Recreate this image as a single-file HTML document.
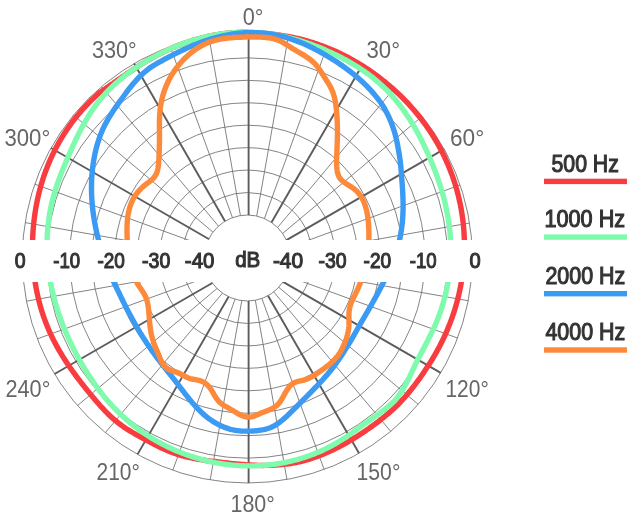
<!DOCTYPE html>
<html><head><meta charset="utf-8"><style>
html,body{margin:0;padding:0;background:#fff;width:627px;height:520px;overflow:hidden}
svg{display:block;will-change:transform}
text{font-family:"Liberation Sans",sans-serif}
</style></head><body>
<svg width="627" height="520" viewBox="0 0 627 520">
<rect width="627" height="520" fill="#fff"/>
<g><circle cx="247.3" cy="258.0" r="43.00" fill="none" stroke="#6e6e6e" stroke-width="0.85"/>
<circle cx="247.3" cy="258.0" r="65.45" fill="none" stroke="#6e6e6e" stroke-width="0.85"/>
<circle cx="247.3" cy="258.0" r="87.90" fill="none" stroke="#6e6e6e" stroke-width="0.85"/>
<circle cx="247.3" cy="258.0" r="110.35" fill="none" stroke="#6e6e6e" stroke-width="0.85"/>
<circle cx="247.3" cy="258.0" r="132.80" fill="none" stroke="#6e6e6e" stroke-width="0.85"/>
<circle cx="247.3" cy="258.0" r="155.25" fill="none" stroke="#6e6e6e" stroke-width="0.85"/>
<circle cx="247.3" cy="258.0" r="177.70" fill="none" stroke="#6e6e6e" stroke-width="0.85"/>
<circle cx="247.3" cy="258.0" r="200.15" fill="none" stroke="#6e6e6e" stroke-width="0.85"/>
<circle cx="247.3" cy="258.0" r="225.00" fill="none" stroke="#6e6e6e" stroke-width="0.85"/>
<line x1="248.60" y1="215.02" x2="248.60" y2="33.00" stroke="#5c5c5c" stroke-width="1.9"/>
<line x1="256.70" y1="216.04" x2="288.31" y2="36.77" stroke="#6e6e6e" stroke-width="0.85"/>
<line x1="264.41" y1="218.55" x2="326.68" y2="47.47" stroke="#6e6e6e" stroke-width="0.85"/>
<line x1="271.45" y1="222.42" x2="362.50" y2="64.73" stroke="#5c5c5c" stroke-width="1.9"/>
<line x1="277.58" y1="227.47" x2="394.64" y2="87.95" stroke="#6e6e6e" stroke-width="0.85"/>
<line x1="282.61" y1="233.46" x2="422.14" y2="116.38" stroke="#6e6e6e" stroke-width="0.85"/>
<line x1="286.43" y1="240.16" x2="444.18" y2="149.08" stroke="#5c5c5c" stroke-width="1.9"/>
<line x1="288.95" y1="247.31" x2="460.13" y2="185.01" stroke="#6e6e6e" stroke-width="0.85"/>
<line x1="290.17" y1="254.67" x2="469.57" y2="223.04" stroke="#6e6e6e" stroke-width="0.85"/>
<line x1="290.11" y1="262.00" x2="472.26" y2="262.00" stroke="#5c5c5c" stroke-width="1.9"/>
<line x1="288.84" y1="269.10" x2="468.21" y2="300.72" stroke="#6e6e6e" stroke-width="0.85"/>
<line x1="286.45" y1="275.78" x2="457.57" y2="338.06" stroke="#6e6e6e" stroke-width="0.85"/>
<line x1="283.05" y1="281.89" x2="440.73" y2="372.93" stroke="#5c5c5c" stroke-width="1.9"/>
<line x1="278.76" y1="287.31" x2="418.22" y2="404.33" stroke="#6e6e6e" stroke-width="0.85"/>
<line x1="273.71" y1="291.93" x2="390.72" y2="431.37" stroke="#6e6e6e" stroke-width="0.85"/>
<line x1="268.04" y1="295.67" x2="359.04" y2="453.29" stroke="#5c5c5c" stroke-width="1.9"/>
<line x1="261.87" y1="298.46" x2="324.12" y2="469.48" stroke="#6e6e6e" stroke-width="0.85"/>
<line x1="255.34" y1="300.24" x2="286.95" y2="479.48" stroke="#6e6e6e" stroke-width="0.85"/>
<line x1="248.60" y1="300.98" x2="248.60" y2="483.00" stroke="#5c5c5c" stroke-width="1.9"/>
<line x1="241.79" y1="300.64" x2="210.18" y2="479.92" stroke="#6e6e6e" stroke-width="0.85"/>
<line x1="235.05" y1="299.22" x2="172.78" y2="470.30" stroke="#6e6e6e" stroke-width="0.85"/>
<line x1="228.56" y1="296.70" x2="137.52" y2="454.40" stroke="#5c5c5c" stroke-width="1.9"/>
<line x1="222.49" y1="293.12" x2="105.42" y2="432.63" stroke="#6e6e6e" stroke-width="0.85"/>
<line x1="217.00" y1="288.51" x2="77.47" y2="405.59" stroke="#6e6e6e" stroke-width="0.85"/>
<line x1="212.29" y1="282.96" x2="54.53" y2="374.04" stroke="#5c5c5c" stroke-width="1.9"/>
<line x1="208.52" y1="276.59" x2="37.34" y2="338.89" stroke="#6e6e6e" stroke-width="0.85"/>
<line x1="205.88" y1="269.53" x2="26.48" y2="301.17" stroke="#6e6e6e" stroke-width="0.85"/>
<line x1="204.49" y1="262.00" x2="22.34" y2="262.00" stroke="#5c5c5c" stroke-width="1.9"/>
<line x1="204.47" y1="254.22" x2="25.10" y2="222.59" stroke="#6e6e6e" stroke-width="0.85"/>
<line x1="205.88" y1="246.45" x2="34.76" y2="184.17" stroke="#6e6e6e" stroke-width="0.85"/>
<line x1="208.73" y1="238.98" x2="51.05" y2="147.95" stroke="#5c5c5c" stroke-width="1.9"/>
<line x1="212.97" y1="232.10" x2="73.52" y2="115.09" stroke="#6e6e6e" stroke-width="0.85"/>
<line x1="218.47" y1="226.09" x2="101.47" y2="86.66" stroke="#6e6e6e" stroke-width="0.85"/>
<line x1="225.05" y1="221.21" x2="134.04" y2="63.58" stroke="#5c5c5c" stroke-width="1.9"/>
<line x1="232.46" y1="217.64" x2="170.21" y2="46.62" stroke="#6e6e6e" stroke-width="0.85"/>
<line x1="240.41" y1="215.56" x2="208.81" y2="36.32" stroke="#6e6e6e" stroke-width="0.85"/></g>
<g fill="none" stroke-linejoin="round" stroke-linecap="round"><path d="M247.00,32.26 L248.97,32.33 L250.94,32.42 L252.90,32.52 L254.87,32.64 L256.83,32.78 L258.80,32.92 L260.76,33.08 L262.72,33.25 L264.67,33.44 L266.63,33.63 L268.58,33.83 L270.54,34.05 L272.49,34.28 L274.44,34.51 L276.39,34.76 L278.34,35.01 L280.29,35.28 L282.23,35.55 L284.18,35.83 L286.12,36.13 L288.06,36.47 L289.99,36.84 L291.92,37.22 L293.84,37.63 L295.76,38.05 L297.68,38.49 L299.59,38.95 L301.50,39.42 L303.40,39.92 L305.30,40.43 L307.19,40.96 L309.08,41.51 L310.96,42.08 L312.83,42.66 L314.71,43.27 L316.57,43.89 L318.43,44.52 L320.28,45.18 L322.13,45.85 L323.97,46.54 L325.80,47.25 L327.62,47.97 L329.44,48.71 L331.25,49.46 L333.06,50.24 L334.86,51.03 L336.64,51.83 L338.43,52.65 L340.20,53.49 L341.97,54.35 L343.72,55.21 L345.47,56.10 L347.21,57.00 L348.95,57.92 L350.67,58.85 L352.39,59.80 L354.09,60.76 L355.79,61.73 L357.48,62.73 L359.16,63.73 L360.83,64.75 L362.49,65.79 L364.14,66.84 L365.79,67.90 L367.42,68.98 L369.04,70.07 L370.66,71.18 L372.26,72.30 L373.85,73.43 L375.43,74.58 L377.01,75.74 L378.57,76.91 L380.12,78.10 L381.66,79.29 L383.20,80.51 L384.72,81.73 L386.23,82.97 L387.73,84.22 L389.22,85.48 L390.69,86.75 L392.16,88.04 L393.62,89.34 L395.06,90.65 L396.49,91.97 L397.92,93.30 L399.33,94.65 L400.73,96.01 L402.11,97.37 L403.49,98.76 L404.85,100.15 L406.20,101.55 L407.54,102.97 L408.87,104.39 L410.18,105.83 L411.48,107.28 L412.77,108.74 L414.04,110.21 L415.30,111.69 L416.55,113.19 L417.79,114.69 L419.01,116.21 L420.21,117.73 L421.41,119.27 L422.59,120.82 L423.75,122.37 L424.90,123.94 L426.04,125.52 L427.16,127.11 L428.26,128.71 L429.36,130.31 L430.43,131.93 L431.49,133.56 L432.54,135.20 L433.57,136.84 L434.58,138.50 L435.58,140.16 L436.56,141.84 L437.53,143.52 L438.48,145.21 L439.41,146.91 L440.33,148.62 L441.23,150.34 L442.12,152.06 L442.98,153.79 L443.83,155.53 L444.67,157.28 L445.49,159.04 L446.29,160.80 L447.07,162.57 L447.84,164.35 L448.59,166.13 L449.32,167.92 L450.04,169.72 L450.74,171.52 L451.42,173.33 L452.08,175.14 L452.73,176.96 L453.36,178.79 L453.97,180.62 L454.57,182.45 L455.15,184.29 L455.71,186.14 L456.25,187.99 L456.78,189.84 L457.28,191.70 L457.77,193.56 L458.25,195.43 L458.70,197.29 L459.14,199.17 L459.56,201.04 L459.97,202.92 L460.36,204.80 L460.72,206.69 L461.08,208.58 L461.41,210.47 L461.73,212.36 L462.02,214.25 L462.31,216.15 L462.57,218.05 L462.82,219.95 L463.04,221.85 L463.26,223.75 L463.45,225.65 L463.63,227.56 L463.79,229.46 L463.93,231.36 L464.05,233.27 L464.16,235.18 L464.25,237.08 L464.32,238.99 L464.38,240.89 L464.42,242.80 L464.44,244.70 L464.44,246.60 L464.43,248.51 L464.40,250.41 L464.35,252.31 L464.29,254.21 L464.20,256.10 L464.11,258.00 L463.99,259.89 L463.86,261.79 L463.71,263.67 L463.55,265.56 L463.36,267.45 L463.16,269.33 L462.95,271.21 L462.72,273.08 L462.47,274.96 L462.20,276.83 L461.92,278.69 L461.62,280.56 L461.31,282.42 L460.98,284.27 L460.63,286.13 L460.27,287.97 L459.89,289.82 L459.50,291.66 L459.09,293.49 L458.66,295.32 L458.22,297.15 L457.76,298.97 L457.29,300.78 L456.80,302.59 L456.30,304.40 L455.78,306.20 L455.24,307.99 L454.69,309.78 L454.13,311.57 L453.55,313.34 L452.95,315.12 L452.34,316.88 L451.72,318.64 L451.08,320.39 L450.42,322.14 L449.76,323.88 L449.07,325.61 L448.38,327.34 L447.66,329.06 L446.94,330.77 L446.20,332.48 L445.45,334.18 L444.68,335.87 L443.90,337.55 L443.11,339.23 L442.30,340.90 L441.48,342.56 L440.64,344.22 L439.80,345.86 L438.94,347.50 L438.07,349.13 L437.18,350.76 L436.28,352.37 L435.37,353.98 L434.45,355.58 L433.51,357.17 L432.57,358.75 L431.61,360.33 L430.64,361.90 L429.65,363.46 L428.66,365.01 L427.65,366.55 L426.63,368.08 L425.60,369.60 L424.60,371.14 L423.58,372.67 L422.55,374.20 L421.51,375.71 L420.46,377.22 L419.40,378.71 L418.32,380.20 L417.24,381.69 L416.14,383.16 L415.04,384.62 L413.92,386.08 L412.79,387.53 L411.65,388.97 L410.50,390.40 L409.34,391.82 L408.17,393.24 L406.99,394.64 L405.79,396.04 L404.59,397.42 L403.38,398.80 L402.15,400.17 L400.92,401.53 L399.67,402.88 L398.41,404.22 L397.09,405.49 L395.75,406.75 L394.41,408.01 L393.06,409.25 L391.69,410.48 L390.32,411.69 L388.94,412.90 L387.55,414.10 L386.15,415.28 L384.74,416.46 L383.33,417.62 L381.90,418.77 L380.47,419.91 L379.03,421.04 L377.58,422.16 L376.12,423.26 L374.65,424.35 L373.17,425.43 L371.69,426.50 L370.19,427.56 L368.69,428.60 L367.18,429.64 L365.66,430.66 L364.14,431.67 L362.63,432.70 L361.11,433.71 L359.58,434.72 L358.05,435.71 L356.50,436.69 L354.95,437.66 L353.39,438.62 L351.82,439.56 L350.26,440.51 L348.69,441.45 L347.11,442.37 L345.52,443.29 L343.92,444.18 L342.32,445.07 L340.70,445.94 L339.08,446.79 L337.45,447.63 L335.81,448.45 L334.16,449.26 L332.51,450.05 L330.85,450.83 L329.17,451.59 L327.50,452.34 L325.81,453.06 L324.12,453.77 L322.42,454.47 L320.71,455.14 L318.99,455.80 L317.27,456.44 L315.54,457.06 L313.81,457.67 L312.07,458.25 L310.32,458.82 L308.56,459.36 L306.80,459.89 L305.04,460.40 L303.26,460.88 L301.49,461.35 L299.70,461.79 L297.92,462.22 L296.11,462.56 L294.30,462.88 L292.49,463.18 L290.67,463.46 L288.85,463.71 L287.03,463.95 L285.21,464.17 L283.39,464.37 L281.57,464.56 L279.74,464.72 L277.92,464.87 L276.09,464.99 L274.27,465.11 L272.44,465.20 L270.62,465.28 L268.79,465.34 L266.97,465.39 L265.15,465.42 L263.33,465.44 L261.51,465.44 L259.69,465.41 L257.87,465.36 L256.05,465.30 L254.24,465.23 L252.42,465.15 L250.61,465.05 L248.81,464.95 L247.00,464.83 L245.20,464.70 L243.39,464.56 L241.59,464.42 L239.80,464.27 L238.00,464.11 L236.21,463.95 L234.41,463.77 L232.62,463.59 L230.83,463.40 L229.05,463.20 L227.26,463.00 L225.48,462.79 L223.69,462.57 L221.91,462.35 L220.13,462.12 L218.35,461.88 L216.55,461.71 L214.76,461.53 L212.97,461.34 L211.18,461.14 L209.39,460.93 L207.60,460.71 L205.81,460.47 L204.02,460.22 L202.23,459.95 L200.44,459.67 L198.65,459.37 L196.87,459.05 L195.09,458.72 L193.31,458.36 L191.54,457.98 L189.77,457.58 L188.00,457.19 L186.23,456.78 L184.46,456.34 L182.71,455.87 L180.96,455.38 L179.22,454.86 L177.48,454.31 L175.76,453.74 L174.04,453.13 L172.34,452.51 L170.64,451.86 L168.95,451.18 L167.27,450.49 L165.59,449.78 L163.93,449.05 L162.27,448.31 L160.61,447.56 L158.97,446.79 L157.35,445.96 L155.73,445.13 L154.12,444.28 L152.52,443.44 L150.91,442.58 L149.31,441.73 L147.71,440.87 L146.11,440.01 L144.51,439.15 L142.91,438.29 L141.31,437.43 L139.71,436.55 L138.12,435.67 L136.53,434.78 L134.95,433.88 L133.37,432.97 L131.80,432.04 L130.24,431.10 L128.69,430.14 L127.15,429.16 L125.62,428.17 L124.10,427.15 L122.60,426.11 L121.12,425.05 L119.65,423.96 L118.21,422.85 L116.78,421.71 L115.37,420.55 L113.98,419.37 L112.61,418.16 L111.26,416.93 L109.92,415.69 L108.61,414.43 L107.30,413.15 L106.02,411.85 L104.75,410.55 L103.49,409.22 L102.25,407.89 L101.02,406.55 L99.80,405.20 L98.60,403.83 L97.40,402.46 L96.22,401.09 L95.04,399.71 L93.87,398.32 L92.70,396.93 L91.55,395.53 L90.39,394.14 L89.24,392.74 L88.10,391.34 L86.96,389.93 L85.82,388.52 L84.69,387.11 L83.56,385.69 L82.45,384.27 L81.33,382.84 L80.22,381.41 L79.12,379.97 L78.03,378.53 L76.94,377.08 L75.86,375.62 L74.78,374.16 L73.71,372.70 L72.65,371.22 L71.60,369.74 L70.56,368.25 L69.52,366.76 L68.50,365.25 L67.48,363.74 L66.48,362.23 L65.48,360.70 L64.49,359.17 L63.51,357.62 L62.55,356.07 L61.59,354.52 L60.65,352.95 L59.72,351.37 L58.80,349.79 L57.89,348.20 L57.00,346.60 L56.12,344.99 L55.26,343.37 L54.40,341.74 L53.57,340.11 L52.74,338.46 L51.94,336.81 L51.15,335.15 L50.37,333.48 L49.61,331.80 L48.87,330.11 L48.14,328.42 L47.44,326.72 L46.74,325.00 L46.07,323.29 L45.41,321.56 L44.77,319.83 L44.14,318.09 L43.53,316.34 L42.94,314.59 L42.37,312.83 L41.81,311.07 L41.26,309.30 L40.74,307.52 L40.23,305.74 L39.74,303.95 L39.26,302.16 L38.80,300.36 L38.36,298.56 L37.93,296.75 L37.52,294.94 L37.13,293.12 L36.75,291.30 L36.39,289.48 L36.05,287.65 L35.72,285.82 L35.41,283.98 L35.11,282.14 L34.83,280.30 L34.57,278.46 L34.32,276.61 L34.09,274.76 L33.87,272.90 L33.67,271.05 L33.48,269.19 L33.32,267.33 L33.16,265.47 L33.02,263.60 L32.90,261.74 L32.80,259.87 L32.70,258.00 L32.63,256.13 L32.57,254.26 L32.52,252.38 L32.49,250.51 L32.48,248.63 L32.48,246.76 L32.49,244.88 L32.52,243.00 L32.56,241.12 L32.62,239.24 L32.70,237.36 L32.78,235.49 L32.89,233.60 L33.01,231.72 L33.14,229.84 L33.29,227.96 L33.45,226.08 L33.63,224.21 L33.82,222.33 L34.03,220.45 L34.26,218.57 L34.50,216.69 L34.75,214.82 L35.03,212.94 L35.31,211.07 L35.62,209.20 L35.94,207.33 L36.28,205.46 L36.63,203.59 L37.00,201.73 L37.39,199.87 L37.79,198.01 L38.21,196.15 L38.64,194.30 L39.10,192.45 L39.57,190.60 L40.06,188.76 L40.56,186.92 L41.08,185.08 L41.62,183.25 L42.18,181.42 L42.75,179.60 L43.34,177.78 L43.95,175.96 L44.57,174.15 L45.22,172.35 L45.88,170.55 L46.56,168.76 L47.25,166.97 L47.96,165.19 L48.70,163.41 L49.44,161.65 L50.21,159.88 L51.00,158.13 L51.80,156.38 L52.62,154.64 L53.45,152.91 L54.30,151.19 L55.18,149.47 L56.06,147.76 L56.97,146.06 L57.89,144.37 L58.83,142.69 L59.79,141.02 L60.76,139.35 L61.75,137.70 L62.75,136.05 L63.78,134.42 L64.82,132.79 L65.87,131.17 L66.95,129.57 L68.03,127.97 L69.14,126.39 L70.26,124.82 L71.40,123.25 L72.55,121.70 L73.72,120.16 L74.90,118.64 L76.10,117.12 L77.31,115.62 L78.55,114.13 L79.79,112.65 L81.05,111.18 L82.33,109.73 L83.62,108.29 L84.92,106.86 L86.24,105.45 L87.57,104.04 L88.92,102.66 L90.28,101.28 L91.66,99.92 L93.05,98.58 L94.45,97.25 L95.87,95.93 L97.29,94.62 L98.73,93.33 L100.33,92.22 L101.93,91.11 L103.51,90.00 L105.10,88.89 L106.68,87.78 L108.26,86.67 L109.84,85.56 L111.41,84.45 L112.99,83.35 L114.56,82.25 L116.14,81.15 L117.71,80.05 L119.29,78.96 L120.87,77.87 L122.45,76.78 L124.04,75.70 L125.63,74.63 L127.22,73.55 L128.82,72.49 L130.41,71.42 L132.02,70.37 L133.63,69.31 L135.22,68.23 L136.82,67.16 L138.43,66.10 L140.05,65.06 L141.68,64.03 L143.33,63.02 L144.98,62.01 L146.64,61.03 L148.31,60.05 L149.98,59.09 L151.67,58.14 L153.36,57.20 L155.07,56.27 L156.78,55.36 L158.50,54.47 L160.23,53.58 L161.97,52.72 L163.71,51.86 L165.47,51.02 L167.23,50.20 L169.00,49.39 L170.78,48.60 L172.57,47.82 L174.37,47.06 L176.17,46.32 L177.98,45.59 L179.80,44.88 L181.63,44.19 L183.47,43.51 L185.31,42.85 L187.16,42.21 L189.01,41.59 L190.88,40.99 L192.75,40.40 L194.62,39.83 L196.51,39.29 L198.40,38.76 L200.29,38.25 L202.19,37.76 L204.10,37.29 L206.01,36.84 L207.93,36.41 L209.85,36.00 L211.78,35.61 L213.71,35.24 L215.64,34.89 L217.58,34.56 L219.53,34.25 L221.47,33.97 L223.43,33.70 L225.38,33.46 L227.34,33.24 L229.30,33.04 L231.26,32.86 L233.22,32.71 L235.19,32.58 L237.15,32.47 L239.12,32.38 L241.09,32.31 L243.06,32.27 L245.03,32.25 Z" stroke="#f83c3f" stroke-width="5.4"/>
<path d="M247.00,32.26 L248.97,32.28 L250.94,32.33 L252.91,32.41 L254.87,32.50 L256.84,32.62 L258.80,32.76 L260.77,32.93 L262.73,33.11 L264.68,33.32 L266.64,33.55 L268.59,33.80 L270.54,34.07 L272.48,34.36 L274.42,34.67 L276.36,35.00 L278.29,35.35 L280.22,35.72 L282.14,36.12 L284.06,36.53 L285.98,36.95 L287.89,37.40 L289.79,37.87 L291.69,38.35 L293.58,38.85 L295.47,39.37 L297.35,39.91 L299.23,40.46 L301.10,41.03 L302.96,41.62 L304.82,42.22 L306.67,42.84 L308.51,43.47 L310.35,44.12 L312.19,44.79 L314.01,45.47 L315.83,46.16 L317.64,46.87 L319.45,47.59 L321.25,48.33 L323.04,49.08 L324.83,49.84 L326.61,50.61 L328.38,51.40 L330.15,52.20 L331.91,53.02 L333.66,53.84 L335.41,54.68 L337.14,55.53 L338.88,56.39 L340.60,57.27 L342.32,58.16 L344.03,59.06 L345.73,59.98 L347.42,60.91 L349.10,61.86 L350.78,62.82 L352.44,63.80 L354.10,64.79 L355.74,65.80 L357.38,66.82 L359.00,67.86 L360.62,68.91 L362.22,69.98 L363.81,71.07 L365.39,72.17 L366.95,73.29 L368.50,74.43 L370.04,75.58 L371.57,76.75 L373.08,77.94 L374.57,79.15 L376.05,80.37 L377.52,81.61 L378.97,82.87 L380.40,84.15 L381.82,85.44 L383.21,86.76 L384.59,88.09 L385.96,89.43 L387.30,90.80 L388.63,92.17 L389.94,93.57 L391.23,94.98 L392.51,96.40 L393.76,97.84 L395.00,99.29 L396.23,100.75 L397.43,102.22 L398.62,103.71 L399.79,105.21 L400.94,106.72 L402.08,108.24 L403.20,109.77 L404.31,111.31 L405.39,112.86 L406.46,114.42 L407.52,115.98 L408.56,117.56 L409.58,119.14 L410.59,120.73 L411.58,122.33 L412.56,123.93 L413.52,125.54 L414.47,127.16 L415.40,128.78 L416.32,130.41 L417.23,132.04 L418.12,133.67 L419.00,135.31 L419.86,136.96 L420.72,138.61 L421.56,140.26 L422.39,141.92 L423.20,143.57 L424.01,145.23 L424.80,146.90 L425.58,148.56 L426.35,150.23 L427.12,151.90 L427.87,153.58 L428.61,155.25 L429.34,156.93 L430.07,158.60 L430.78,160.28 L431.48,161.96 L432.18,163.65 L432.86,165.33 L433.53,167.02 L434.19,168.71 L434.85,170.41 L435.49,172.10 L436.12,173.80 L436.74,175.50 L437.35,177.20 L437.95,178.91 L438.53,180.62 L439.11,182.33 L439.67,184.04 L440.22,185.76 L440.76,187.48 L441.29,189.20 L441.80,190.92 L442.31,192.65 L442.80,194.38 L443.27,196.12 L443.74,197.85 L444.19,199.59 L444.63,201.33 L445.05,203.08 L445.46,204.82 L445.86,206.57 L446.24,208.32 L446.61,210.08 L446.96,211.84 L447.30,213.60 L447.62,215.36 L447.93,217.12 L448.22,218.89 L448.50,220.65 L448.76,222.42 L449.01,224.20 L449.24,225.97 L449.45,227.74 L449.65,229.52 L449.83,231.30 L450.00,233.07 L450.15,234.85 L450.28,236.63 L450.40,238.42 L450.50,240.20 L450.58,241.98 L450.64,243.76 L450.69,245.54 L450.73,247.32 L450.75,249.10 L450.75,250.89 L450.73,252.67 L450.70,254.44 L450.65,256.22 L450.58,258.00 L450.50,259.78 L450.40,261.55 L450.29,263.32 L450.16,265.09 L450.01,266.86 L449.84,268.63 L449.66,270.40 L449.46,272.16 L449.25,273.92 L449.02,275.67 L448.77,277.43 L448.51,279.18 L448.23,280.93 L447.93,282.67 L447.62,284.41 L447.29,286.15 L446.95,287.88 L446.59,289.61 L446.21,291.34 L445.81,293.06 L445.41,294.77 L444.98,296.48 L444.54,298.19 L444.08,299.89 L443.60,301.59 L443.11,303.28 L442.61,304.96 L442.09,306.64 L441.55,308.31 L441.00,309.98 L440.43,311.64 L439.84,313.30 L439.24,314.94 L438.63,316.59 L438.00,318.22 L437.35,319.85 L436.69,321.47 L436.01,323.08 L435.32,324.69 L434.61,326.28 L433.89,327.88 L433.16,329.46 L432.42,331.04 L431.67,332.61 L430.91,334.18 L430.14,335.74 L429.36,337.29 L428.57,338.84 L427.79,340.39 L426.99,341.93 L426.19,343.47 L425.39,345.01 L424.59,346.54 L423.78,348.07 L422.97,349.61 L422.16,351.14 L421.36,352.67 L420.55,354.20 L419.75,355.74 L418.94,357.27 L418.15,358.81 L417.35,360.36 L416.56,361.91 L415.77,363.46 L415.03,365.05 L414.30,366.64 L413.56,368.25 L412.83,369.85 L412.08,371.46 L411.34,373.07 L410.58,374.68 L409.81,376.29 L409.04,377.90 L408.24,379.51 L407.43,381.10 L406.60,382.70 L405.76,384.28 L404.89,385.85 L403.99,387.41 L403.07,388.96 L402.12,390.49 L401.15,392.00 L400.14,393.49 L399.10,394.96 L398.03,396.40 L396.93,397.81 L395.79,399.20 L394.62,400.56 L393.35,401.82 L392.06,403.06 L390.74,404.27 L389.40,405.46 L388.04,406.63 L386.67,407.78 L385.28,408.90 L383.87,410.01 L382.45,411.10 L381.03,412.18 L379.59,413.24 L378.15,414.30 L376.70,415.34 L375.25,416.37 L373.79,417.40 L372.33,418.42 L370.87,419.44 L369.42,420.45 L367.96,421.47 L366.51,422.49 L365.06,423.51 L363.61,424.53 L362.15,425.55 L360.70,426.57 L359.27,427.62 L357.84,428.67 L356.40,429.72 L354.96,430.77 L353.51,431.81 L352.06,432.84 L350.59,433.87 L349.13,434.89 L347.65,435.90 L346.16,436.90 L344.67,437.89 L343.17,438.87 L341.66,439.83 L340.13,440.79 L338.60,441.73 L337.06,442.65 L335.51,443.56 L333.94,444.45 L332.37,445.32 L330.78,446.17 L329.18,447.01 L327.58,447.83 L325.96,448.64 L324.34,449.42 L322.71,450.19 L321.06,450.94 L319.41,451.67 L317.75,452.39 L316.08,453.08 L314.41,453.76 L312.72,454.42 L311.03,455.06 L309.33,455.69 L307.62,456.29 L305.91,456.88 L304.19,457.45 L302.47,458.00 L300.73,458.53 L298.99,459.05 L297.25,459.54 L295.50,460.02 L293.75,460.48 L291.99,460.92 L290.22,461.34 L288.45,461.74 L286.68,462.13 L284.90,462.49 L283.12,462.84 L281.33,463.17 L279.54,463.48 L277.75,463.77 L275.96,464.04 L274.16,464.30 L272.36,464.53 L270.56,464.75 L268.75,464.95 L266.94,465.13 L265.14,465.29 L263.33,465.43 L261.51,465.56 L259.70,465.67 L257.89,465.75 L256.07,465.82 L254.26,465.87 L252.44,465.91 L250.63,465.92 L248.81,465.92 L247.00,465.90 L245.19,465.86 L243.37,465.80 L241.56,465.72 L239.75,465.63 L237.94,465.52 L236.13,465.39 L234.32,465.24 L232.52,465.08 L230.72,464.89 L228.92,464.69 L227.12,464.48 L225.32,464.24 L223.53,463.99 L221.74,463.72 L219.95,463.43 L218.17,463.13 L216.39,462.81 L214.62,462.47 L212.84,462.12 L211.07,461.74 L209.31,461.36 L207.55,460.95 L205.80,460.53 L204.04,460.09 L202.30,459.64 L200.56,459.17 L198.82,458.68 L197.09,458.18 L195.36,457.66 L193.65,457.12 L191.93,456.57 L190.22,456.01 L188.52,455.43 L186.82,454.83 L185.13,454.22 L183.45,453.59 L181.77,452.94 L180.10,452.29 L178.44,451.61 L176.78,450.92 L175.13,450.22 L173.49,449.50 L171.85,448.77 L170.23,448.02 L168.61,447.26 L167.00,446.48 L165.39,445.68 L163.80,444.88 L162.21,444.05 L160.63,443.22 L159.06,442.36 L157.50,441.50 L155.95,440.62 L154.41,439.72 L152.87,438.82 L151.35,437.89 L149.83,436.96 L148.33,436.01 L146.84,435.04 L145.35,434.06 L143.88,433.07 L142.41,432.06 L140.96,431.05 L139.51,430.01 L138.08,428.97 L136.66,427.91 L135.25,426.84 L133.85,425.75 L132.46,424.65 L131.08,423.54 L129.72,422.42 L128.37,421.28 L127.03,420.14 L125.70,418.98 L124.38,417.80 L123.07,416.62 L121.78,415.42 L120.50,414.21 L119.23,412.99 L117.98,411.76 L116.74,410.52 L115.51,409.26 L114.29,408.00 L113.09,406.73 L111.89,405.44 L110.72,404.15 L109.55,402.84 L108.39,401.53 L107.25,400.21 L106.12,398.88 L105.00,397.54 L103.89,396.20 L102.80,394.84 L101.72,393.48 L100.65,392.11 L99.59,390.73 L98.54,389.35 L97.50,387.96 L96.48,386.56 L95.46,385.15 L94.46,383.74 L93.47,382.33 L92.49,380.90 L91.52,379.48 L90.56,378.04 L89.61,376.60 L88.67,375.16 L87.74,373.71 L86.82,372.26 L85.91,370.80 L85.01,369.33 L84.12,367.87 L83.23,366.39 L82.36,364.92 L81.50,363.44 L80.64,361.95 L79.80,360.46 L78.96,358.97 L78.13,357.47 L77.31,355.97 L76.50,354.47 L75.69,352.96 L74.90,351.44 L74.11,349.92 L73.34,348.40 L72.57,346.88 L71.82,345.34 L71.07,343.81 L70.33,342.27 L69.60,340.72 L68.88,339.17 L68.17,337.62 L67.47,336.06 L66.78,334.50 L66.10,332.93 L65.43,331.36 L64.77,329.78 L64.12,328.20 L63.48,326.61 L62.85,325.02 L62.23,323.43 L61.63,321.83 L61.03,320.23 L60.44,318.62 L59.87,317.00 L59.30,315.39 L58.75,313.76 L58.21,312.14 L57.67,310.50 L57.16,308.87 L56.65,307.23 L56.15,305.58 L55.67,303.94 L55.19,302.28 L54.73,300.62 L54.28,298.96 L53.85,297.30 L53.42,295.63 L53.01,293.95 L52.61,292.28 L52.23,290.59 L51.86,288.91 L51.49,287.22 L51.15,285.53 L50.81,283.83 L50.49,282.13 L50.19,280.42 L49.89,278.72 L49.61,277.01 L49.35,275.29 L49.09,273.58 L48.85,271.86 L48.63,270.13 L48.42,268.41 L48.22,266.68 L48.04,264.95 L47.88,263.21 L47.72,261.48 L47.59,259.74 L47.47,258.00 L47.36,256.26 L47.27,254.51 L47.19,252.77 L47.13,251.02 L47.08,249.27 L47.05,247.52 L47.04,245.77 L47.04,244.02 L47.05,242.26 L47.09,240.51 L47.14,238.76 L47.20,237.00 L47.28,235.25 L47.38,233.49 L47.49,231.73 L47.62,229.98 L47.77,228.23 L47.94,226.47 L48.12,224.72 L48.31,222.97 L48.53,221.22 L48.76,219.47 L49.01,217.72 L49.27,215.97 L49.56,214.23 L49.86,212.49 L50.17,210.75 L50.51,209.01 L50.86,207.27 L51.23,205.54 L51.62,203.82 L52.02,202.09 L52.44,200.37 L52.88,198.65 L53.34,196.94 L53.82,195.23 L54.31,193.53 L54.81,191.83 L55.34,190.13 L55.87,188.44 L56.43,186.75 L56.99,185.06 L57.57,183.38 L58.16,181.70 L58.76,180.03 L59.38,178.36 L60.00,176.69 L60.64,175.03 L61.28,173.36 L61.93,171.70 L62.59,170.04 L63.26,168.39 L63.94,166.73 L64.62,165.07 L65.31,163.42 L66.01,161.76 L66.71,160.11 L67.41,158.45 L68.13,156.80 L68.84,155.14 L69.56,153.48 L70.28,151.82 L71.01,150.16 L71.75,148.49 L72.50,146.83 L73.25,145.16 L74.01,143.50 L74.78,141.83 L75.56,140.17 L76.35,138.51 L77.15,136.85 L77.96,135.19 L78.78,133.53 L79.62,131.87 L80.47,130.22 L81.33,128.57 L82.21,126.92 L83.11,125.28 L84.01,123.64 L84.94,122.01 L85.88,120.39 L86.84,118.77 L87.81,117.16 L88.80,115.56 L89.81,113.96 L90.84,112.38 L91.88,110.80 L92.95,109.23 L94.03,107.68 L95.14,106.14 L96.26,104.61 L97.41,103.09 L98.57,101.59 L99.76,100.10 L100.96,98.63 L102.19,97.17 L103.44,95.73 L104.71,94.31 L105.99,92.90 L107.30,91.51 L108.63,90.14 L109.97,88.79 L111.34,87.45 L112.72,86.13 L114.11,84.82 L115.53,83.53 L116.96,82.26 L118.40,81.00 L119.86,79.76 L121.34,78.54 L122.83,77.33 L124.33,76.14 L125.85,74.96 L127.38,73.80 L128.92,72.66 L130.48,71.53 L132.05,70.41 L133.63,69.31 L135.22,68.23 L136.82,67.16 L138.43,66.10 L140.05,65.06 L141.68,64.03 L143.33,63.02 L144.98,62.01 L146.64,61.03 L148.31,60.05 L149.98,59.09 L151.67,58.14 L153.36,57.20 L155.07,56.27 L156.78,55.36 L158.50,54.47 L160.23,53.58 L161.97,52.72 L163.71,51.86 L165.47,51.02 L167.23,50.20 L169.00,49.39 L170.78,48.60 L172.57,47.82 L174.37,47.06 L176.17,46.32 L177.98,45.59 L179.80,44.88 L181.63,44.19 L183.47,43.51 L185.31,42.85 L187.16,42.21 L189.01,41.59 L190.88,40.99 L192.75,40.40 L194.62,39.83 L196.51,39.29 L198.40,38.76 L200.29,38.25 L202.19,37.76 L204.10,37.29 L206.01,36.84 L207.93,36.41 L209.85,36.00 L211.78,35.61 L213.71,35.24 L215.64,34.89 L217.58,34.56 L219.53,34.25 L221.47,33.97 L223.43,33.70 L225.38,33.46 L227.34,33.24 L229.30,33.04 L231.26,32.86 L233.22,32.71 L235.19,32.58 L237.15,32.47 L239.12,32.38 L241.09,32.31 L243.06,32.27 L245.03,32.25 Z" stroke="#7ffbae" stroke-width="5.4"/>
<path d="M247.00,32.74 L248.97,32.65 L250.93,32.60 L252.90,32.59 L254.87,32.61 L256.84,32.67 L258.80,32.76 L260.77,32.89 L262.73,33.05 L264.69,33.25 L266.64,33.48 L268.59,33.75 L270.54,34.04 L272.48,34.37 L274.41,34.72 L276.34,35.11 L278.27,35.53 L280.18,35.97 L282.09,36.44 L283.99,36.95 L285.88,37.47 L287.77,38.03 L289.65,38.60 L291.51,39.21 L293.37,39.84 L295.22,40.49 L297.06,41.16 L298.89,41.86 L300.71,42.58 L302.52,43.31 L304.32,44.07 L306.11,44.87 L307.88,45.69 L309.64,46.52 L311.40,47.37 L313.14,48.24 L314.87,49.12 L316.59,50.02 L318.30,50.94 L320.00,51.87 L321.68,52.81 L323.36,53.76 L325.03,54.73 L326.69,55.71 L328.33,56.70 L329.97,57.70 L331.59,58.71 L333.21,59.73 L334.82,60.75 L336.42,61.79 L338.00,62.84 L339.58,63.90 L341.15,64.97 L342.70,66.06 L344.24,67.15 L345.77,68.26 L347.29,69.37 L348.80,70.50 L350.30,71.65 L351.78,72.81 L353.25,73.98 L354.70,75.16 L356.14,76.36 L357.57,77.57 L358.98,78.79 L360.38,80.03 L361.76,81.29 L363.12,82.56 L364.47,83.85 L365.80,85.15 L367.11,86.46 L368.41,87.79 L369.68,89.14 L370.94,90.51 L372.18,91.88 L373.39,93.28 L374.59,94.69 L375.77,96.12 L376.92,97.56 L378.05,99.02 L379.16,100.50 L380.24,101.99 L381.31,103.50 L382.34,105.02 L383.35,106.57 L384.30,108.17 L385.21,109.79 L386.10,111.42 L386.96,113.07 L387.79,114.73 L388.59,116.41 L389.36,118.11 L390.10,119.81 L390.81,121.53 L391.49,123.26 L392.14,125.01 L392.76,126.76 L393.35,128.52 L393.92,130.29 L394.46,132.06 L394.97,133.84 L395.45,135.63 L395.91,137.42 L396.34,139.21 L396.75,141.00 L397.13,142.80 L397.49,144.60 L397.83,146.39 L398.14,148.19 L398.48,149.95 L398.80,151.71 L399.10,153.46 L399.38,155.22 L399.65,156.97 L399.89,158.71 L400.12,160.45 L400.33,162.19 L400.53,163.92 L400.71,165.64 L400.87,167.36 L401.03,169.07 L401.17,170.78 L401.30,172.47 L401.42,174.16 L401.53,175.84 L401.67,177.48 L401.81,179.12 L401.94,180.75 L402.06,182.37 L402.18,183.98 L402.29,185.59 L402.40,187.18 L402.50,188.77 L402.59,190.35 L402.68,191.92 L402.76,193.48 L402.83,195.04 L402.89,196.59 L402.95,198.14 L403.00,199.68 L403.04,201.21 L403.07,202.73 L403.09,204.25 L403.10,205.77 L403.11,207.28 L403.08,208.79 L403.04,210.29 L402.99,211.79 L402.93,213.29 L402.86,214.78 L402.78,216.26 L402.68,217.74 L402.58,219.21 L402.46,220.68 L402.33,222.14 L402.18,223.60 L402.02,225.05 L401.85,226.49 L401.67,227.94 L401.47,229.37 L401.26,230.80 L401.03,232.22 L400.79,233.64 L400.53,235.05 L400.27,236.46 L399.96,237.86 L399.65,239.26 L399.32,240.65 L398.98,242.03 L398.63,243.40 L398.26,244.77 L397.89,246.12 L397.51,247.48 L397.11,248.82 L396.70,250.15 L396.29,251.48 L395.87,252.80 L395.43,254.11 L394.99,255.42 L394.54,256.71 L394.08,258.00 L393.61,259.28 L393.14,260.55 L392.66,261.81 L392.17,263.07 L391.67,264.32 L391.17,265.56 L390.66,266.79 L390.14,268.01 L389.62,269.22 L389.10,270.43 L388.57,271.63 L388.03,272.82 L387.49,274.01 L386.95,275.18 L386.40,276.35 L385.85,277.51 L385.29,278.67 L384.73,279.81 L384.17,280.95 L383.61,282.09 L383.04,283.21 L382.47,284.33 L381.90,285.45 L381.33,286.55 L380.76,287.65 L380.18,288.75 L379.61,289.84 L379.03,290.92 L378.45,292.00 L377.88,293.07 L377.30,294.14 L376.72,295.20 L376.15,296.25 L375.57,297.31 L374.99,298.35 L374.41,299.40 L373.83,300.44 L373.26,301.47 L372.68,302.50 L372.10,303.53 L371.52,304.56 L370.94,305.58 L370.36,306.59 L369.78,307.61 L369.20,308.62 L368.63,309.63 L368.05,310.63 L367.47,311.63 L366.89,312.64 L366.31,313.63 L365.73,314.63 L365.15,315.62 L364.56,316.62 L363.98,317.61 L363.40,318.59 L362.82,319.58 L362.24,320.57 L361.65,321.55 L361.07,322.54 L360.48,323.52 L359.93,324.52 L359.38,325.52 L358.82,326.52 L358.26,327.52 L357.70,328.52 L357.14,329.53 L356.58,330.53 L356.01,331.53 L355.44,332.53 L354.87,333.53 L354.30,334.54 L353.72,335.54 L353.14,336.54 L352.56,337.55 L351.97,338.55 L351.39,339.56 L350.79,340.56 L350.20,341.57 L349.60,342.57 L348.99,343.58 L348.38,344.59 L347.77,345.60 L347.15,346.61 L346.53,347.62 L345.90,348.63 L345.27,349.64 L344.63,350.65 L343.99,351.66 L343.34,352.68 L342.69,353.69 L342.03,354.70 L341.36,355.72 L340.69,356.73 L340.02,357.75 L339.33,358.76 L338.64,359.78 L337.94,360.79 L337.24,361.81 L336.53,362.82 L335.81,363.84 L335.06,364.83 L334.30,365.81 L333.54,366.80 L332.77,367.78 L331.99,368.77 L331.21,369.75 L330.42,370.73 L329.62,371.71 L328.81,372.69 L327.99,373.67 L327.17,374.65 L326.34,375.62 L325.50,376.60 L324.65,377.57 L323.79,378.54 L322.93,379.51 L322.05,380.48 L321.17,381.44 L320.28,382.41 L319.39,383.37 L318.48,384.34 L317.57,385.31 L316.65,386.27 L315.72,387.24 L314.78,388.21 L313.84,389.19 L312.89,390.16 L311.94,391.14 L310.97,392.12 L310.00,393.11 L309.03,394.10 L308.04,395.10 L307.05,396.10 L306.05,397.11 L305.04,398.13 L304.03,399.15 L303.01,400.18 L301.98,401.22 L300.94,402.26 L299.89,403.32 L298.83,404.36 L297.76,405.41 L296.68,406.47 L295.59,407.54 L294.49,408.62 L293.39,409.72 L292.27,410.83 L291.14,411.94 L290.00,413.07 L288.85,414.20 L287.69,415.32 L286.50,416.44 L285.30,417.54 L284.08,418.63 L282.85,419.69 L281.59,420.73 L280.31,421.74 L279.02,422.71 L277.70,423.63 L276.36,424.51 L275.00,425.34 L273.63,426.11 L272.23,426.81 L270.81,427.45 L269.38,428.02 L267.94,428.51 L266.48,428.94 L265.01,429.31 L263.53,429.64 L262.04,429.92 L260.55,430.16 L259.05,430.38 L257.56,430.57 L256.05,430.74 L254.55,430.88 L253.04,430.99 L251.53,431.08 L250.02,431.13 L248.51,431.15 L247.00,431.14 L245.49,431.15 L243.98,431.13 L242.47,431.08 L240.96,430.99 L239.45,430.86 L237.95,430.69 L236.45,430.49 L234.96,430.25 L233.47,429.97 L231.98,429.64 L230.51,429.28 L229.04,428.87 L227.58,428.42 L226.14,427.92 L224.70,427.39 L223.27,426.82 L221.86,426.21 L220.46,425.57 L219.07,424.89 L217.70,424.17 L216.34,423.43 L215.00,422.65 L213.67,421.84 L212.35,421.00 L211.06,420.13 L209.78,419.24 L208.51,418.32 L207.26,417.37 L206.03,416.40 L204.82,415.41 L203.63,414.37 L202.46,413.31 L201.31,412.24 L200.18,411.14 L199.06,410.04 L197.96,408.92 L196.88,407.78 L195.82,406.64 L194.77,405.49 L193.74,404.33 L192.72,403.17 L191.72,402.00 L190.74,400.83 L189.77,399.65 L188.81,398.47 L187.87,397.30 L186.94,396.12 L186.02,394.95 L185.12,393.78 L184.22,392.62 L183.34,391.47 L182.47,390.32 L181.60,389.18 L180.74,388.04 L179.89,386.92 L179.04,385.81 L178.20,384.72 L177.36,383.63 L176.53,382.56 L175.70,381.49 L174.88,380.44 L174.06,379.39 L173.24,378.36 L172.43,377.33 L171.63,376.31 L170.82,375.30 L170.02,374.30 L169.23,373.30 L168.44,372.31 L167.65,371.33 L166.87,370.34 L166.10,369.36 L165.33,368.38 L164.56,367.40 L163.80,366.43 L163.04,365.46 L162.29,364.50 L161.54,363.54 L160.79,362.58 L160.05,361.62 L159.32,360.67 L158.58,359.71 L157.86,358.76 L157.14,357.80 L156.42,356.85 L155.71,355.89 L155.01,354.94 L154.31,353.98 L153.62,353.03 L152.93,352.07 L152.25,351.11 L151.57,350.15 L150.90,349.20 L150.23,348.24 L149.57,347.28 L148.91,346.32 L148.26,345.36 L147.62,344.39 L146.97,343.43 L146.33,342.47 L145.70,341.51 L145.07,340.54 L144.44,339.58 L143.82,338.61 L143.20,337.64 L142.59,336.68 L141.98,335.71 L141.37,334.74 L140.77,333.77 L140.17,332.80 L139.59,331.82 L139.01,330.84 L138.43,329.86 L137.85,328.88 L137.28,327.90 L136.71,326.92 L136.15,325.93 L135.58,324.95 L135.02,323.96 L134.47,322.97 L133.91,321.98 L133.36,320.99 L132.81,320.00 L132.26,319.01 L131.72,318.01 L131.18,317.01 L130.64,316.02 L130.10,315.02 L129.56,314.01 L129.03,313.01 L128.50,312.00 L127.97,310.99 L127.44,309.98 L126.92,308.97 L126.40,307.96 L125.87,306.94 L125.35,305.92 L124.84,304.89 L124.32,303.87 L123.81,302.84 L123.29,301.81 L122.78,300.77 L122.27,299.73 L121.76,298.69 L121.25,297.65 L120.75,296.60 L120.24,295.55 L119.74,294.49 L119.24,293.43 L118.74,292.37 L118.21,291.31 L117.69,290.24 L117.17,289.17 L116.66,288.09 L116.14,287.01 L115.62,285.92 L115.11,284.83 L114.60,283.74 L114.09,282.63 L113.59,281.52 L113.08,280.41 L112.58,279.29 L112.08,278.16 L111.58,277.03 L111.09,275.89 L110.60,274.75 L110.11,273.60 L109.62,272.44 L109.14,271.27 L108.66,270.10 L108.19,268.92 L107.71,267.74 L107.25,266.55 L106.78,265.35 L106.32,264.14 L105.86,262.93 L105.41,261.71 L104.96,260.48 L104.52,259.24 L104.08,258.00 L103.64,256.75 L103.21,255.49 L102.78,254.22 L102.36,252.95 L101.95,251.67 L101.54,250.38 L101.14,249.08 L100.74,247.77 L100.34,246.46 L99.96,245.14 L99.58,243.80 L99.20,242.47 L98.84,241.12 L98.48,239.76 L98.12,238.40 L97.78,237.03 L97.44,235.65 L97.10,234.26 L96.78,232.86 L96.46,231.46 L96.15,230.04 L95.85,228.62 L95.56,227.19 L95.27,225.75 L95.00,224.30 L94.73,222.85 L94.47,221.38 L94.22,219.91 L93.98,218.43 L93.75,216.94 L93.53,215.44 L93.32,213.93 L93.12,212.42 L92.93,210.90 L92.75,209.37 L92.58,207.83 L92.42,206.28 L92.28,204.72 L92.14,203.16 L92.02,201.59 L91.90,200.01 L91.80,198.43 L91.72,196.83 L91.64,195.23 L91.59,193.63 L91.54,192.01 L91.51,190.39 L91.49,188.76 L91.49,187.13 L91.50,185.49 L91.53,183.84 L91.57,182.19 L91.63,180.54 L91.71,178.88 L91.80,177.21 L91.91,175.54 L92.04,173.86 L92.19,172.19 L92.35,170.50 L92.53,168.82 L92.73,167.13 L92.95,165.44 L93.19,163.74 L93.44,162.05 L93.72,160.35 L94.01,158.65 L94.33,156.95 L94.66,155.25 L95.02,153.55 L95.39,151.84 L95.79,150.14 L96.21,148.45 L96.65,146.75 L97.12,145.06 L97.61,143.37 L98.13,141.69 L98.67,140.01 L99.23,138.34 L99.82,136.67 L100.44,135.02 L101.08,133.37 L101.75,131.74 L102.45,130.11 L103.17,128.50 L103.93,126.90 L104.71,125.31 L105.52,123.74 L106.35,122.18 L107.21,120.63 L108.09,119.09 L109.00,117.57 L109.92,116.05 L110.86,114.54 L111.82,113.04 L112.80,111.55 L113.79,110.06 L114.80,108.58 L115.82,107.10 L116.86,105.62 L117.90,104.14 L118.95,102.67 L120.02,101.19 L121.09,99.71 L122.17,98.22 L123.25,96.73 L124.34,95.23 L125.44,93.72 L126.55,92.21 L127.67,90.70 L128.80,89.19 L129.97,87.72 L131.15,86.25 L132.36,84.79 L133.58,83.35 L134.82,81.91 L136.08,80.49 L137.37,79.09 L138.67,77.71 L140.00,76.36 L141.36,75.03 L142.74,73.73 L144.15,72.46 L145.59,71.23 L147.06,70.04 L148.55,68.88 L150.07,67.77 L151.63,66.71 L153.21,65.70 L154.81,64.72 L156.43,63.78 L158.07,62.87 L159.73,61.98 L161.37,61.06 L163.01,60.14 L164.67,59.23 L166.33,58.33 L168.00,57.44 L169.67,56.55 L171.35,55.67 L173.04,54.80 L174.74,53.93 L176.44,53.08 L178.15,52.23 L179.87,51.40 L181.60,50.57 L183.33,49.76 L185.08,48.95 L186.83,48.16 L188.59,47.38 L190.36,46.61 L192.14,45.86 L193.92,45.11 L195.72,44.39 L197.52,43.67 L199.33,42.98 L201.15,42.29 L202.98,41.63 L204.82,40.98 L206.66,40.35 L208.51,39.74 L210.38,39.16 L212.25,38.60 L214.13,38.06 L216.02,37.55 L217.91,37.05 L219.81,36.58 L221.72,36.13 L223.64,35.71 L225.56,35.31 L227.48,34.93 L229.42,34.58 L231.35,34.26 L233.30,33.96 L235.24,33.70 L237.20,33.46 L239.15,33.25 L241.11,33.07 L243.07,32.92 L245.03,32.80 Z" stroke="#3b9af3" stroke-width="5.4"/>
<path d="M247.00,36.77 L248.93,36.88 L250.86,36.95 L252.79,37.00 L254.72,37.04 L256.65,37.06 L258.58,37.10 L260.51,37.15 L262.44,37.22 L264.37,37.33 L266.29,37.49 L268.21,37.70 L270.12,37.98 L272.03,38.34 L273.92,38.79 L275.79,39.33 L277.64,39.98 L279.47,40.74 L281.27,41.60 L283.05,42.55 L284.81,43.57 L286.55,44.63 L288.26,45.72 L289.97,46.82 L291.66,47.91 L293.34,48.97 L295.02,49.99 L296.70,50.99 L298.37,51.96 L300.03,52.93 L301.69,53.90 L303.33,54.88 L304.95,55.89 L306.56,56.93 L308.14,58.01 L309.70,59.15 L311.22,60.35 L312.71,61.62 L314.15,62.98 L315.55,64.43 L316.89,65.98 L318.17,67.63 L319.41,69.37 L320.60,71.17 L321.75,72.98 L322.89,74.79 L324.01,76.57 L325.14,78.30 L326.25,80.00 L327.34,81.70 L328.41,83.41 L329.44,85.16 L330.42,86.95 L331.35,88.81 L332.22,90.75 L333.01,92.77 L333.73,94.89 L334.35,97.11 L334.90,99.43 L335.36,101.83 L335.74,104.29 L336.07,106.79 L336.34,109.31 L336.58,111.82 L336.78,114.33 L336.95,116.80 L337.10,119.25 L337.23,121.68 L337.33,124.09 L337.39,126.48 L337.44,128.84 L337.45,131.19 L337.45,133.51 L337.42,135.80 L337.38,138.06 L337.32,140.29 L337.25,142.48 L337.17,144.64 L337.09,146.75 L337.00,148.82 L336.92,150.84 L336.84,152.81 L336.76,154.74 L336.70,156.62 L336.65,158.44 L336.61,160.20 L336.60,161.91 L336.62,163.56 L336.66,165.16 L336.73,166.69 L336.84,168.16 L336.99,169.57 L337.19,170.91 L337.43,172.19 L337.72,173.40 L338.07,174.55 L338.49,175.63 L338.96,176.64 L339.51,177.59 L340.12,178.47 L340.79,179.30 L341.53,180.08 L342.31,180.82 L343.14,181.52 L344.02,182.20 L344.93,182.85 L345.87,183.49 L346.84,184.12 L347.83,184.74 L348.83,185.37 L349.83,185.99 L350.84,186.63 L351.84,187.29 L352.82,187.96 L353.78,188.66 L354.71,189.38 L355.61,190.13 L356.47,190.92 L357.28,191.74 L358.06,192.58 L358.80,193.45 L359.50,194.35 L360.17,195.27 L360.80,196.21 L361.40,197.17 L361.96,198.15 L362.50,199.15 L363.00,200.16 L363.47,201.19 L363.92,202.23 L364.34,203.28 L364.74,204.34 L365.11,205.42 L365.46,206.49 L365.78,207.58 L366.09,208.67 L366.37,209.77 L366.64,210.87 L366.88,211.98 L367.11,213.09 L367.32,214.21 L367.51,215.32 L367.69,216.44 L367.85,217.56 L367.99,218.69 L368.13,219.81 L368.25,220.93 L368.35,222.05 L368.45,223.18 L368.53,224.30 L368.61,225.42 L368.67,226.53 L368.73,227.65 L368.78,228.76 L368.82,229.87 L368.86,230.99 L368.88,232.09 L368.90,233.20 L368.90,234.30 L368.90,235.41 L368.90,236.51 L368.88,237.60 L368.85,238.70 L368.82,239.79 L368.78,240.89 L368.73,241.97 L368.67,243.06 L368.60,244.14 L368.53,245.23 L368.45,246.31 L368.36,247.38 L368.26,248.46 L368.15,249.53 L368.04,250.60 L367.91,251.66 L367.78,252.73 L367.64,253.79 L367.50,254.84 L367.34,255.90 L367.18,256.95 L367.01,258.00 L366.83,259.05 L366.64,260.09 L366.45,261.13 L366.25,262.16 L366.03,263.20 L365.82,264.23 L365.59,265.25 L365.36,266.28 L365.11,267.30 L364.86,268.31 L364.61,269.32 L364.34,270.33 L364.07,271.34 L363.79,272.34 L363.50,273.34 L363.20,274.33 L362.90,275.32 L362.59,276.31 L362.27,277.29 L361.94,278.27 L361.61,279.24 L361.26,280.21 L360.91,281.18 L360.56,282.14 L360.19,283.09 L359.82,284.05 L359.44,284.99 L359.05,285.94 L358.66,286.88 L358.26,287.81 L357.85,288.74 L357.43,289.67 L357.01,290.59 L356.58,291.50 L356.14,292.41 L355.69,293.32 L355.25,294.22 L354.80,295.12 L354.35,296.01 L353.90,296.91 L353.46,297.80 L353.03,298.70 L352.61,299.60 L352.20,300.50 L351.81,301.41 L351.43,302.33 L351.07,303.25 L350.73,304.19 L350.42,305.13 L350.13,306.09 L349.87,307.07 L349.64,308.06 L349.43,309.07 L349.26,310.11 L349.13,311.16 L349.03,312.25 L348.96,313.36 L348.93,314.50 L348.92,315.66 L348.93,316.85 L348.94,318.05 L348.97,319.27 L348.99,320.50 L349.00,321.74 L348.99,322.98 L348.97,324.22 L348.92,325.46 L348.84,326.69 L348.73,327.91 L348.58,329.13 L348.40,330.33 L348.19,331.52 L347.95,332.70 L347.68,333.87 L347.38,335.03 L347.06,336.18 L346.72,337.32 L346.35,338.46 L345.97,339.58 L345.56,340.70 L345.13,341.81 L344.69,342.92 L344.22,344.02 L343.74,345.11 L343.25,346.20 L342.74,347.28 L342.22,348.36 L341.68,349.43 L341.12,350.49 L340.54,351.54 L339.93,352.57 L339.30,353.58 L338.64,354.57 L337.95,355.53 L337.23,356.47 L336.49,357.39 L335.71,358.27 L334.91,359.13 L334.09,359.97 L333.25,360.78 L332.41,361.61 L331.56,362.43 L330.69,363.22 L329.81,363.99 L328.91,364.75 L328.00,365.49 L327.08,366.23 L326.15,366.94 L325.22,367.65 L324.27,368.35 L323.32,369.05 L322.37,369.74 L321.41,370.42 L320.45,371.10 L319.49,371.79 L318.53,372.47 L317.56,373.15 L316.59,373.82 L315.61,374.48 L314.63,375.14 L313.61,375.73 L312.58,376.32 L311.55,376.88 L310.50,377.42 L309.44,377.94 L308.37,378.44 L307.28,378.90 L306.18,379.34 L305.07,379.74 L303.94,380.10 L302.79,380.42 L301.63,380.70 L300.46,380.96 L299.29,381.20 L298.13,381.45 L296.99,381.73 L295.87,382.07 L294.78,382.47 L293.72,382.96 L292.71,383.57 L291.72,384.28 L290.78,385.13 L289.86,386.10 L288.98,387.19 L288.11,388.38 L287.25,389.66 L286.40,391.03 L285.55,392.46 L284.70,393.94 L283.84,395.47 L282.96,397.04 L282.06,398.62 L281.14,400.19 L280.17,401.68 L279.15,403.02 L278.08,404.22 L276.96,405.28 L275.81,406.21 L274.62,407.04 L273.41,407.79 L272.18,408.45 L270.93,409.06 L269.66,409.63 L268.39,410.17 L267.10,410.68 L265.81,411.18 L264.51,411.68 L263.21,412.18 L261.90,412.69 L260.58,413.22 L259.26,413.83 L257.94,414.45 L256.61,415.06 L255.26,415.63 L253.90,416.15 L252.54,416.58 L251.16,416.90 L249.78,417.08 L248.39,417.11 L247.00,417.00 L245.61,416.76 L244.23,416.41 L242.86,415.95 L241.50,415.40 L240.15,414.78 L238.82,414.09 L237.50,413.36 L236.19,412.59 L234.90,411.80 L233.61,411.01 L232.34,410.22 L231.08,409.45 L229.83,408.72 L228.58,408.02 L227.34,407.35 L226.10,406.69 L224.88,406.01 L223.67,405.29 L222.48,404.51 L221.32,403.66 L220.18,402.71 L219.08,401.64 L218.02,400.47 L216.99,399.18 L216.01,397.81 L215.06,396.34 L214.15,394.81 L213.28,393.25 L212.42,391.71 L211.56,390.25 L210.69,388.94 L209.80,387.73 L208.90,386.62 L207.98,385.62 L207.05,384.70 L206.10,383.88 L205.13,383.14 L204.13,382.49 L203.12,381.91 L202.08,381.41 L201.02,380.98 L199.93,380.61 L198.82,380.31 L197.69,380.05 L196.54,379.83 L195.37,379.63 L194.20,379.44 L193.02,379.24 L191.85,379.02 L190.69,378.76 L189.57,378.41 L188.47,378.00 L187.40,377.54 L186.35,377.04 L185.31,376.50 L184.29,375.94 L183.27,375.38 L182.25,374.82 L181.22,374.27 L180.17,373.75 L179.11,373.26 L178.01,372.81 L176.90,372.39 L175.77,372.00 L174.62,371.61 L173.47,371.22 L172.32,370.82 L171.18,370.40 L170.06,369.95 L168.95,369.46 L167.91,368.88 L166.91,368.23 L165.96,367.53 L165.06,366.74 L164.23,365.87 L163.46,364.92 L162.77,363.89 L162.13,362.80 L161.55,361.66 L161.00,360.49 L160.49,359.29 L160.00,358.08 L159.52,356.88 L159.05,355.68 L158.57,354.51 L158.08,353.36 L157.59,352.22 L157.09,351.10 L156.61,349.99 L156.12,348.88 L155.65,347.77 L155.19,346.66 L154.75,345.54 L154.34,344.41 L153.94,343.27 L153.57,342.12 L153.18,341.00 L152.82,339.87 L152.47,338.73 L152.15,337.59 L151.85,336.43 L151.57,335.27 L151.32,334.11 L151.08,332.94 L150.86,331.77 L150.66,330.60 L150.48,329.42 L150.31,328.25 L150.15,327.08 L150.01,325.91 L149.88,324.75 L149.76,323.59 L149.65,322.43 L149.55,321.28 L149.46,320.14 L149.37,319.01 L149.28,317.88 L149.20,316.77 L149.11,315.66 L149.03,314.56 L148.94,313.48 L148.85,312.40 L148.76,311.34 L148.66,310.29 L148.55,309.25 L148.43,308.22 L148.30,307.21 L148.16,306.21 L148.00,305.22 L147.83,304.25 L147.63,303.28 L147.42,302.33 L147.19,301.40 L146.93,300.48 L146.65,299.56 L146.35,298.67 L146.01,297.78 L145.65,296.91 L145.25,296.04 L144.83,295.19 L144.37,294.34 L143.89,293.50 L143.38,292.67 L142.86,291.84 L142.32,291.01 L141.76,290.17 L141.20,289.34 L140.63,288.50 L140.05,287.66 L139.48,286.81 L138.90,285.96 L138.34,285.09 L137.78,284.22 L137.24,283.34 L136.72,282.45 L136.22,281.55 L135.73,280.64 L135.26,279.72 L134.81,278.79 L134.38,277.86 L133.97,276.92 L133.57,275.97 L133.18,275.01 L132.82,274.05 L132.47,273.08 L132.13,272.10 L131.81,271.12 L131.51,270.14 L131.22,269.15 L130.94,268.15 L130.68,267.15 L130.43,266.15 L130.19,265.14 L129.97,264.13 L129.75,263.12 L129.55,262.10 L129.36,261.08 L129.18,260.06 L129.01,259.03 L128.86,258.00 L128.71,256.97 L128.57,255.93 L128.43,254.90 L128.31,253.86 L128.20,252.81 L128.09,251.77 L127.99,250.72 L127.89,249.67 L127.81,248.62 L127.72,247.56 L127.65,246.51 L127.58,245.45 L127.51,244.39 L127.45,243.32 L127.39,242.25 L127.33,241.18 L127.28,240.11 L127.23,239.03 L127.19,237.95 L127.14,236.87 L127.10,235.78 L127.07,234.69 L127.04,233.59 L127.01,232.50 L127.00,231.40 L126.99,230.29 L126.99,229.19 L127.00,228.08 L127.02,226.97 L127.05,225.86 L127.09,224.75 L127.14,223.63 L127.21,222.52 L127.29,221.40 L127.38,220.29 L127.49,219.17 L127.62,218.06 L127.76,216.94 L127.92,215.83 L128.10,214.72 L128.29,213.62 L128.51,212.52 L128.74,211.42 L129.00,210.32 L129.27,209.24 L129.57,208.15 L129.89,207.08 L130.23,206.01 L130.60,204.95 L130.98,203.90 L131.40,202.86 L131.83,201.83 L132.29,200.81 L132.78,199.80 L133.29,198.81 L133.83,197.83 L134.39,196.86 L134.99,195.91 L135.61,194.98 L136.25,194.06 L136.92,193.16 L137.62,192.28 L138.34,191.42 L139.09,190.57 L139.86,189.74 L140.65,188.93 L141.46,188.14 L142.29,187.37 L143.13,186.61 L144.00,185.88 L144.87,185.15 L145.77,184.45 L146.67,183.76 L147.58,183.08 L148.48,182.40 L149.37,181.72 L150.24,181.04 L151.10,180.34 L151.92,179.62 L152.71,178.88 L153.46,178.11 L154.16,177.30 L154.82,176.44 L155.42,175.54 L155.96,174.57 L156.43,173.55 L156.86,172.46 L157.23,171.31 L157.55,170.10 L157.83,168.83 L158.07,167.50 L158.27,166.12 L158.45,164.69 L158.60,163.20 L158.72,161.66 L158.83,160.07 L158.92,158.44 L159.00,156.77 L159.07,155.05 L159.14,153.29 L159.21,151.50 L159.27,149.66 L159.32,147.78 L159.37,145.84 L159.41,143.86 L159.45,141.81 L159.47,139.71 L159.48,137.54 L159.48,135.30 L159.46,132.98 L159.44,130.60 L159.42,128.16 L159.41,125.67 L159.42,123.14 L159.46,120.59 L159.53,118.02 L159.65,115.46 L159.82,112.90 L160.04,110.38 L160.33,107.89 L160.69,105.44 L161.10,103.04 L161.58,100.67 L162.11,98.35 L162.70,96.06 L163.35,93.82 L164.05,91.62 L164.80,89.46 L165.60,87.35 L166.46,85.27 L167.36,83.24 L168.30,81.25 L169.30,79.29 L170.33,77.38 L171.41,75.51 L172.53,73.68 L173.69,71.89 L174.89,70.14 L176.12,68.43 L177.39,66.76 L178.70,65.13 L180.04,63.53 L181.41,61.97 L182.81,60.45 L184.25,58.97 L185.71,57.53 L187.20,56.12 L188.72,54.76 L190.27,53.44 L191.85,52.16 L193.45,50.94 L195.08,49.76 L196.73,48.63 L198.42,47.56 L200.12,46.54 L201.85,45.57 L203.60,44.66 L205.37,43.82 L207.16,43.03 L208.97,42.31 L210.80,41.65 L212.64,41.05 L214.50,40.51 L216.36,40.02 L218.24,39.58 L220.13,39.19 L222.03,38.84 L223.93,38.54 L225.84,38.28 L227.76,38.05 L229.67,37.86 L231.59,37.69 L233.52,37.55 L235.44,37.43 L237.37,37.34 L239.29,37.26 L241.22,37.20 L243.14,37.14 L245.07,37.10 Z" stroke="#fd8a3a" stroke-width="5.4"/></g>
<rect x="0" y="240" width="627" height="42" fill="#fff"/>
<text transform="translate(253.10,24.70) scale(0.943,1)" text-anchor="middle" font-size="23" font-weight="normal" fill="#666">0°</text>
<text transform="translate(383.30,57.90) scale(0.963,1)" text-anchor="middle" font-size="23" font-weight="normal" fill="#666">30°</text>
<text transform="translate(467.10,145.70) scale(0.984,1)" text-anchor="middle" font-size="23" font-weight="normal" fill="#666">60°</text>
<text transform="translate(467.10,396.80) scale(0.912,1)" text-anchor="middle" font-size="23" font-weight="normal" fill="#666">120°</text>
<text transform="translate(378.45,479.60) scale(0.922,1)" text-anchor="middle" font-size="23" font-weight="normal" fill="#666">150°</text>
<text transform="translate(252.65,511.60) scale(0.933,1)" text-anchor="middle" font-size="23" font-weight="normal" fill="#666">180°</text>
<text transform="translate(118.20,479.60) scale(0.912,1)" text-anchor="middle" font-size="23" font-weight="normal" fill="#666">210°</text>
<text transform="translate(27.90,396.80) scale(0.943,1)" text-anchor="middle" font-size="23" font-weight="normal" fill="#666">240°</text>
<text transform="translate(27.35,145.70) scale(0.963,1)" text-anchor="middle" font-size="23" font-weight="normal" fill="#666">300°</text>
<text transform="translate(114.30,57.90) scale(0.943,1)" text-anchor="middle" font-size="23" font-weight="normal" fill="#666">330°</text>
<text transform="translate(20.10,267.60) scale(0.904,1)" text-anchor="middle" font-size="21.6" font-weight="normal" fill="#333333" stroke="#333333" stroke-width="1.1">0</text>
<text transform="translate(66.75,267.60) scale(0.861,1)" text-anchor="middle" font-size="21.6" font-weight="normal" fill="#333333" stroke="#333333" stroke-width="1.1">-10</text>
<text transform="translate(111.20,267.60) scale(0.879,1)" text-anchor="middle" font-size="21.6" font-weight="normal" fill="#333333" stroke="#333333" stroke-width="1.1">-20</text>
<text transform="translate(156.20,267.60) scale(0.904,1)" text-anchor="middle" font-size="21.6" font-weight="normal" fill="#333333" stroke="#333333" stroke-width="1.1">-30</text>
<text transform="translate(199.60,267.60) scale(0.944,1)" text-anchor="middle" font-size="21.6" font-weight="normal" fill="#333333" stroke="#333333" stroke-width="1.1">-40</text>
<text transform="translate(247.75,267.10) scale(0.95,1)" text-anchor="middle" font-size="21.6" font-weight="normal" fill="#333333" stroke="#333333" stroke-width="1.1">dB</text>
<text transform="translate(288.00,267.60) scale(0.969,1)" text-anchor="middle" font-size="21.6" font-weight="normal" fill="#333333" stroke="#333333" stroke-width="1.1">-40</text>
<text transform="translate(332.55,267.60) scale(0.901,1)" text-anchor="middle" font-size="21.6" font-weight="normal" fill="#333333" stroke="#333333" stroke-width="1.1">-30</text>
<text transform="translate(377.40,267.60) scale(0.884,1)" text-anchor="middle" font-size="21.6" font-weight="normal" fill="#333333" stroke="#333333" stroke-width="1.1">-20</text>
<text transform="translate(423.15,267.60) scale(0.861,1)" text-anchor="middle" font-size="21.6" font-weight="normal" fill="#333333" stroke="#333333" stroke-width="1.1">-10</text>
<text transform="translate(475.05,267.60) scale(0.93,1)" text-anchor="middle" font-size="21.6" font-weight="normal" fill="#333333" stroke="#333333" stroke-width="1.1">0</text>
<text transform="translate(585.15,171.90) scale(0.9,1)" text-anchor="middle" font-size="23.6" font-weight="normal" fill="#333333" stroke="#333333" stroke-width="1.1">500 Hz</text>
<text transform="translate(584.80,227.40) scale(0.917,1)" text-anchor="middle" font-size="23.6" font-weight="normal" fill="#333333" stroke="#333333" stroke-width="1.1">1000 Hz</text>
<text transform="translate(585.30,283.60) scale(0.908,1)" text-anchor="middle" font-size="23.6" font-weight="normal" fill="#333333" stroke="#333333" stroke-width="1.1">2000 Hz</text>
<text transform="translate(585.30,339.70) scale(0.908,1)" text-anchor="middle" font-size="23.6" font-weight="normal" fill="#333333" stroke="#333333" stroke-width="1.1">4000 Hz</text>
<rect x="544" y="178.7" width="83" height="5.4" fill="#f83c3f"/>
<rect x="544" y="234.4" width="83" height="5.4" fill="#7ffbae"/>
<rect x="544" y="291" width="83" height="5.4" fill="#3b9af3"/>
<rect x="544" y="347.3" width="83" height="5.4" fill="#fd8a3a"/>
</svg>
</body></html>
